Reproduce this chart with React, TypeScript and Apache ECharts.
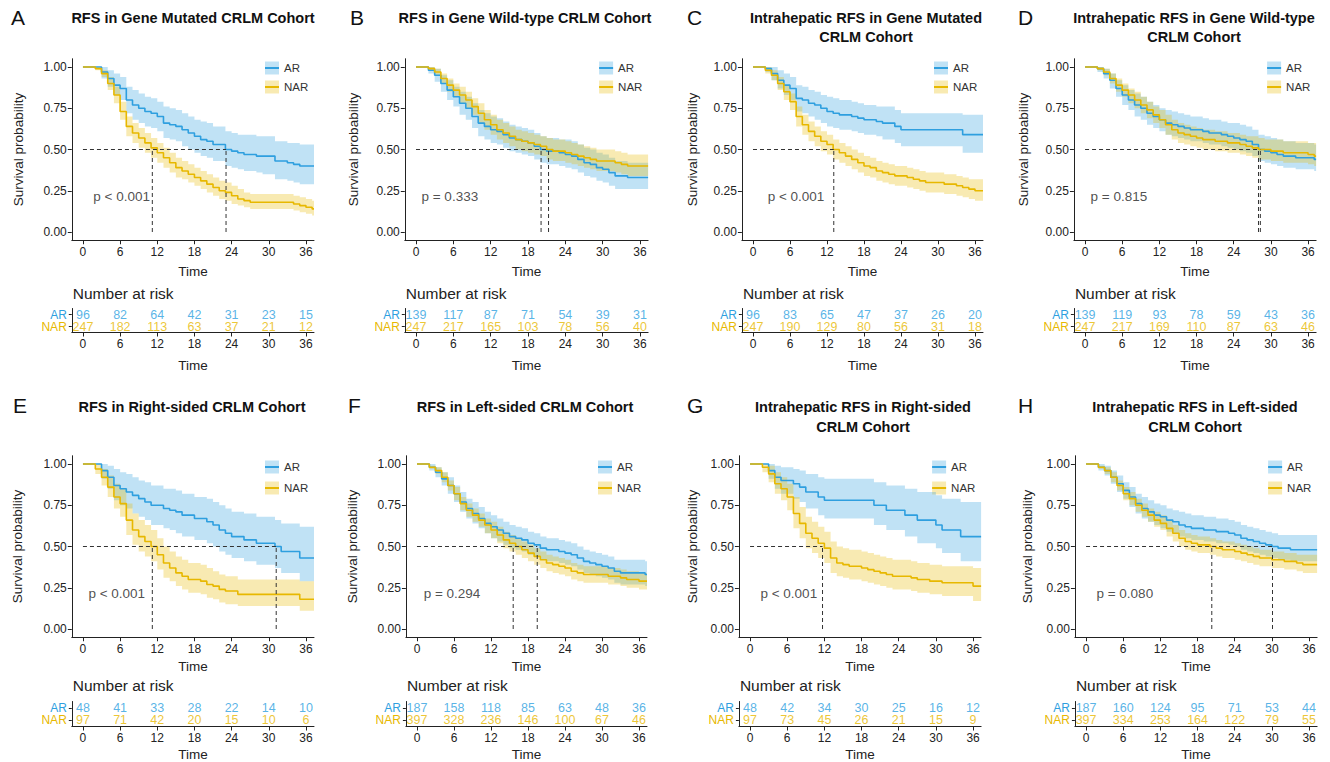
import React, { useEffect, useRef } from "react";
import * as echarts from "echarts";

// ---------- data ----------
const T_MONTHS = [0,1,2,3,4,5,6,7,8,9,10,11,12,13,14,15,16,17,18,19,20,21,22,23,24,25,26,27,28,29,30,31,32,33,34,35,36,37];
const FOLLOW_UP_END = 37.3;
const RISK_TIMES = [0, 6, 12, 18, 24, 30, 36];
const Y_TICKS = [0, 0.25, 0.5, 0.75, 1];
const GROUPS = ["AR", "NAR"];

// Panel A
const A_AR_S = [1,1,1,0.97,0.93,0.89,0.87,0.80,0.77,0.75, 0.73,0.72,0.70,0.66,0.65,0.64,0.62,0.60,0.58,0.56, 0.55,0.53,0.53,0.50,0.49,0.48,0.47,0.47,0.46,0.46, 0.46,0.43,0.43,0.42,0.41,0.40,0.40,0.40];
const A_AR_HI = [1,1,1,1,0.98,0.96,0.94,0.88,0.86,0.84, 0.82,0.81,0.79,0.76,0.75,0.74,0.72,0.70,0.68,0.67, 0.66,0.64,0.64,0.61,0.60,0.59,0.59,0.59,0.58,0.58, 0.58,0.55,0.55,0.54,0.54,0.53,0.53,0.53];
const A_AR_LO = [1,1,1,0.93,0.88,0.83,0.80,0.72,0.68,0.66, 0.64,0.63,0.61,0.57,0.56,0.55,0.52,0.50,0.48,0.46, 0.45,0.43,0.43,0.40,0.39,0.38,0.37,0.37,0.36,0.35, 0.35,0.32,0.32,0.31,0.30,0.29,0.29,0.29];
const A_NAR_S = [1,1,0.99,0.96,0.90,0.83,0.73,0.64,0.60,0.57, 0.54,0.51,0.48,0.45,0.42,0.39,0.37,0.35,0.33,0.31, 0.29,0.27,0.25,0.24,0.22,0.20,0.19,0.18,0.18,0.18, 0.18,0.18,0.18,0.18,0.17,0.16,0.15,0.14];
const A_NAR_HI = [1,1,1,0.98,0.94,0.88,0.79,0.70,0.66,0.63, 0.60,0.57,0.54,0.51,0.48,0.45,0.43,0.41,0.39,0.37, 0.35,0.33,0.31,0.30,0.28,0.26,0.24,0.23,0.23,0.23, 0.23,0.23,0.23,0.23,0.22,0.21,0.20,0.19];
const A_NAR_LO = [1,1,0.98,0.94,0.86,0.78,0.68,0.58,0.54,0.51, 0.48,0.45,0.42,0.39,0.36,0.33,0.32,0.30,0.28,0.26, 0.24,0.22,0.20,0.19,0.17,0.16,0.15,0.14,0.14,0.14, 0.14,0.14,0.14,0.14,0.13,0.12,0.11,0.10];
const A_RISK_AR = [96, 82, 64, 42, 31, 23, 15];
const A_RISK_NAR = [247, 182, 113, 63, 37, 21, 12];
const A_MEDIANS = [23.1, 11.2];

// Panel B
const B_AR_S = [1,1,0.98,0.95,0.90,0.86,0.82,0.78,0.75,0.70, 0.66,0.64,0.62,0.61,0.59,0.57,0.56,0.55,0.54,0.52, 0.50,0.49,0.49,0.48,0.47,0.46,0.44,0.42,0.41,0.39, 0.38,0.36,0.34,0.34,0.33,0.33,0.33,0.33];
const B_AR_HI = [1,1,1,0.99,0.95,0.92,0.88,0.85,0.82,0.78, 0.74,0.72,0.70,0.69,0.67,0.65,0.64,0.63,0.62,0.60, 0.58,0.57,0.57,0.56,0.56,0.55,0.53,0.51,0.50,0.48, 0.47,0.45,0.43,0.43,0.42,0.42,0.42,0.42];
const B_AR_LO = [1,1,0.96,0.91,0.85,0.80,0.76,0.71,0.68,0.63, 0.58,0.56,0.54,0.53,0.51,0.49,0.48,0.47,0.46,0.44, 0.42,0.41,0.41,0.40,0.39,0.38,0.36,0.34,0.33,0.31, 0.30,0.28,0.26,0.26,0.26,0.26,0.26,0.26];
const B_NAR_S = [1,1,0.99,0.97,0.93,0.89,0.86,0.83,0.80,0.76, 0.72,0.68,0.65,0.62,0.60,0.58,0.56,0.55,0.54,0.53, 0.52,0.50,0.49,0.49,0.48,0.47,0.46,0.45,0.44,0.43, 0.43,0.43,0.42,0.41,0.40,0.40,0.40,0.40];
const B_NAR_HI = [1,1,1,0.99,0.96,0.93,0.90,0.88,0.85,0.81, 0.78,0.74,0.71,0.68,0.66,0.64,0.62,0.61,0.60,0.59, 0.58,0.57,0.56,0.56,0.55,0.54,0.53,0.52,0.51,0.50, 0.50,0.50,0.49,0.48,0.47,0.47,0.47,0.47];
const B_NAR_LO = [1,1,0.98,0.95,0.90,0.85,0.82,0.78,0.75,0.71, 0.66,0.62,0.59,0.56,0.54,0.52,0.50,0.49,0.48,0.47, 0.46,0.44,0.43,0.43,0.42,0.41,0.40,0.39,0.38,0.37, 0.37,0.37,0.36,0.35,0.34,0.34,0.34,0.34];
const B_RISK_AR = [139, 117, 87, 71, 54, 39, 31];
const B_RISK_NAR = [247, 217, 165, 103, 78, 56, 40];
const B_MEDIANS = [20.1, 21.3];

// Panel C
const C_AR_S = [1,1,0.99,0.96,0.92,0.89,0.87,0.81,0.80,0.78, 0.77,0.75,0.73,0.72,0.71,0.71,0.70,0.69,0.68,0.68, 0.67,0.66,0.66,0.64,0.62,0.62,0.62,0.62,0.62,0.62, 0.62,0.62,0.62,0.62,0.59,0.59,0.59,0.59];
const C_AR_HI = [1,1,1,1,0.98,0.96,0.94,0.89,0.88,0.86, 0.85,0.83,0.82,0.81,0.80,0.80,0.79,0.78,0.77,0.77, 0.76,0.76,0.76,0.74,0.72,0.72,0.72,0.72,0.72,0.72, 0.72,0.72,0.72,0.72,0.71,0.71,0.71,0.71];
const C_AR_LO = [1,1,0.97,0.92,0.87,0.83,0.80,0.73,0.72,0.70, 0.68,0.66,0.64,0.63,0.62,0.62,0.61,0.60,0.59,0.59, 0.58,0.56,0.56,0.54,0.52,0.52,0.52,0.52,0.52,0.52, 0.52,0.52,0.52,0.52,0.48,0.48,0.48,0.48];
const C_NAR_S = [1,1,0.98,0.95,0.90,0.85,0.79,0.70,0.65,0.61, 0.58,0.55,0.53,0.50,0.48,0.46,0.44,0.42,0.40,0.39, 0.37,0.36,0.35,0.34,0.34,0.33,0.32,0.31,0.30,0.30, 0.30,0.29,0.29,0.28,0.27,0.26,0.25,0.25];
const C_NAR_HI = [1,1,1,0.98,0.94,0.89,0.84,0.76,0.71,0.67, 0.64,0.61,0.59,0.56,0.54,0.52,0.50,0.48,0.46,0.45, 0.43,0.42,0.41,0.40,0.40,0.39,0.38,0.37,0.36,0.36, 0.36,0.35,0.35,0.34,0.33,0.32,0.32,0.32];
const C_NAR_LO = [1,1,0.96,0.92,0.86,0.80,0.74,0.64,0.59,0.55, 0.52,0.49,0.47,0.44,0.42,0.40,0.38,0.36,0.34,0.33, 0.31,0.30,0.29,0.28,0.28,0.27,0.26,0.25,0.24,0.24, 0.24,0.23,0.23,0.22,0.21,0.20,0.19,0.19];
const C_RISK_AR = [96, 83, 65, 47, 37, 26, 20];
const C_RISK_NAR = [247, 190, 129, 80, 56, 31, 18];
const C_MEDIANS = [13.1];

// Panel D
const D_AR_S = [1,1,0.99,0.96,0.92,0.87,0.83,0.80,0.77,0.75, 0.72,0.70,0.68,0.66,0.65,0.64,0.63,0.62,0.62,0.61, 0.60,0.60,0.59,0.58,0.57,0.56,0.55,0.53,0.50,0.49, 0.48,0.47,0.46,0.46,0.45,0.45,0.45,0.44];
const D_AR_HI = [1,1,1,0.99,0.96,0.92,0.89,0.86,0.84,0.82, 0.79,0.77,0.75,0.74,0.73,0.72,0.71,0.70,0.70,0.69, 0.68,0.68,0.67,0.66,0.66,0.65,0.64,0.62,0.59,0.58, 0.57,0.56,0.55,0.55,0.54,0.54,0.54,0.53];
const D_AR_LO = [1,1,0.97,0.93,0.87,0.82,0.77,0.74,0.70,0.68, 0.65,0.63,0.61,0.59,0.58,0.57,0.56,0.55,0.55,0.54, 0.53,0.53,0.52,0.51,0.50,0.49,0.48,0.46,0.43,0.42, 0.41,0.40,0.39,0.39,0.38,0.38,0.38,0.37];
const D_NAR_S = [1,1,0.99,0.97,0.93,0.89,0.86,0.83,0.80,0.77, 0.74,0.71,0.68,0.65,0.62,0.60,0.59,0.58,0.57,0.56, 0.56,0.55,0.55,0.54,0.54,0.53,0.52,0.51,0.50,0.50, 0.49,0.49,0.48,0.48,0.48,0.48,0.47,0.46];
const D_NAR_HI = [1,1,1,0.99,0.96,0.93,0.90,0.87,0.85,0.82, 0.79,0.76,0.74,0.71,0.68,0.66,0.65,0.64,0.63,0.62, 0.62,0.61,0.61,0.60,0.60,0.59,0.58,0.58,0.57,0.56, 0.56,0.56,0.55,0.55,0.55,0.55,0.54,0.54];
const D_NAR_LO = [1,1,0.98,0.95,0.90,0.85,0.82,0.78,0.75,0.72, 0.69,0.66,0.63,0.59,0.56,0.54,0.53,0.52,0.51,0.50, 0.50,0.49,0.49,0.48,0.48,0.47,0.46,0.45,0.44,0.44, 0.43,0.43,0.42,0.42,0.42,0.42,0.41,0.40];
const D_RISK_AR = [139, 119, 93, 78, 59, 43, 36];
const D_RISK_NAR = [247, 217, 169, 110, 87, 63, 46];
const D_MEDIANS = [28.0, 28.3];

// Panel E
const E_AR_S = [1,1,1,0.96,0.92,0.87,0.85,0.83,0.81,0.79, 0.77,0.75,0.75,0.73,0.72,0.71,0.69,0.69,0.67,0.67, 0.65,0.63,0.60,0.58,0.56,0.56,0.54,0.54,0.52,0.52, 0.52,0.50,0.47,0.47,0.47,0.43,0.43,0.43];
const E_AR_HI = [1,1,1,1,0.99,0.97,0.95,0.94,0.92,0.90, 0.89,0.87,0.87,0.85,0.85,0.84,0.82,0.82,0.80,0.80, 0.79,0.77,0.75,0.73,0.71,0.71,0.70,0.70,0.68,0.68, 0.68,0.66,0.64,0.64,0.64,0.62,0.62,0.62];
const E_AR_LO = [1,1,1,0.91,0.85,0.78,0.75,0.73,0.70,0.68, 0.66,0.63,0.63,0.61,0.60,0.58,0.56,0.56,0.54,0.54, 0.52,0.50,0.47,0.45,0.43,0.43,0.41,0.41,0.39,0.39, 0.39,0.37,0.34,0.34,0.34,0.29,0.29,0.29];
const E_NAR_S = [1,1,0.97,0.92,0.86,0.80,0.76,0.66,0.60,0.56, 0.53,0.50,0.45,0.40,0.37,0.34,0.32,0.30,0.30,0.29, 0.27,0.26,0.24,0.23,0.23,0.21,0.21,0.21,0.21,0.21, 0.21,0.21,0.21,0.21,0.21,0.18,0.18,0.18];
const E_NAR_HI = [1,1,1,0.97,0.93,0.88,0.85,0.76,0.70,0.66, 0.63,0.60,0.55,0.50,0.47,0.44,0.42,0.40,0.40,0.39, 0.37,0.35,0.33,0.32,0.32,0.30,0.30,0.30,0.30,0.30, 0.30,0.30,0.30,0.30,0.30,0.29,0.29,0.29];
const E_NAR_LO = [1,1,0.94,0.87,0.80,0.73,0.68,0.57,0.51,0.47, 0.44,0.41,0.36,0.31,0.29,0.26,0.24,0.22,0.22,0.21, 0.19,0.18,0.16,0.15,0.15,0.14,0.14,0.14,0.14,0.14, 0.14,0.14,0.14,0.14,0.14,0.11,0.11,0.11];
const E_RISK_AR = [48, 41, 33, 28, 22, 14, 10];
const E_RISK_NAR = [97, 71, 42, 20, 15, 10, 6];
const E_MEDIANS = [31.2, 11.2];

// Panel F
const F_AR_S = [1,1,0.98,0.95,0.91,0.87,0.82,0.77,0.73,0.70, 0.67,0.64,0.62,0.60,0.58,0.56,0.55,0.54,0.52,0.51, 0.49,0.48,0.48,0.47,0.46,0.45,0.43,0.41,0.40,0.39, 0.38,0.37,0.35,0.34,0.34,0.34,0.34,0.33];
const F_AR_HI = [1,1,1,0.98,0.95,0.92,0.87,0.83,0.79,0.77, 0.74,0.71,0.69,0.67,0.65,0.63,0.62,0.61,0.59,0.58, 0.56,0.55,0.55,0.54,0.53,0.52,0.50,0.48,0.47,0.46, 0.45,0.44,0.42,0.42,0.42,0.42,0.42,0.41];
const F_AR_LO = [1,1,0.96,0.92,0.87,0.82,0.77,0.71,0.67,0.64, 0.61,0.58,0.55,0.53,0.51,0.49,0.48,0.47,0.45,0.44, 0.42,0.41,0.41,0.40,0.39,0.38,0.36,0.34,0.33,0.32, 0.31,0.30,0.28,0.27,0.27,0.27,0.27,0.26];
const F_NAR_S = [1,1,0.98,0.96,0.92,0.87,0.82,0.76,0.72,0.69, 0.66,0.63,0.60,0.57,0.54,0.52,0.50,0.48,0.46,0.44, 0.42,0.40,0.39,0.38,0.37,0.35,0.34,0.33,0.33,0.33, 0.33,0.32,0.32,0.31,0.30,0.30,0.29,0.29];
const F_NAR_HI = [1,1,0.99,0.98,0.95,0.90,0.86,0.80,0.76,0.73, 0.70,0.67,0.65,0.62,0.59,0.57,0.55,0.53,0.51,0.49, 0.47,0.45,0.44,0.43,0.42,0.40,0.39,0.38,0.38,0.38, 0.38,0.37,0.37,0.36,0.35,0.35,0.34,0.34];
const F_NAR_LO = [1,1,0.97,0.94,0.89,0.84,0.78,0.72,0.68,0.65, 0.62,0.58,0.55,0.52,0.49,0.47,0.45,0.43,0.41,0.39, 0.37,0.35,0.34,0.33,0.32,0.30,0.29,0.28,0.28,0.28, 0.28,0.27,0.27,0.26,0.25,0.25,0.24,0.24];
const F_RISK_AR = [187, 158, 118, 85, 63, 48, 36];
const F_RISK_NAR = [397, 328, 236, 146, 100, 67, 46];
const F_MEDIANS = [19.5, 15.6];

// Panel G
const G_AR_S = [1,1,1,0.96,0.92,0.90,0.90,0.88,0.86,0.83, 0.83,0.80,0.78,0.78,0.78,0.78,0.78,0.78,0.78,0.78, 0.75,0.75,0.72,0.72,0.72,0.69,0.69,0.66,0.66,0.66, 0.63,0.60,0.60,0.60,0.56,0.56,0.56,0.56];
const G_AR_HI = [1,1,1,1,0.99,0.98,0.98,0.97,0.96,0.94, 0.94,0.92,0.91,0.91,0.91,0.91,0.91,0.91,0.91,0.91, 0.89,0.89,0.87,0.87,0.87,0.85,0.85,0.83,0.83,0.83, 0.81,0.79,0.79,0.79,0.77,0.77,0.77,0.77];
const G_AR_LO = [1,1,1,0.91,0.85,0.82,0.82,0.79,0.77,0.73, 0.73,0.69,0.67,0.67,0.67,0.67,0.67,0.67,0.67,0.67, 0.63,0.63,0.60,0.60,0.60,0.56,0.56,0.52,0.52,0.52, 0.49,0.46,0.46,0.46,0.41,0.41,0.41,0.41];
const G_NAR_S = [1,1,0.98,0.94,0.88,0.85,0.80,0.70,0.64,0.58, 0.55,0.52,0.49,0.43,0.40,0.39,0.38,0.38,0.37,0.36, 0.35,0.34,0.33,0.32,0.32,0.32,0.31,0.30,0.30,0.29, 0.29,0.28,0.28,0.28,0.28,0.28,0.26,0.26];
const G_NAR_HI = [1,1,1,0.99,0.95,0.92,0.88,0.80,0.74,0.68, 0.65,0.62,0.59,0.53,0.50,0.49,0.48,0.48,0.47,0.46, 0.45,0.44,0.43,0.42,0.42,0.42,0.41,0.40,0.40,0.39, 0.39,0.38,0.38,0.38,0.38,0.38,0.37,0.37];
const G_NAR_LO = [1,1,0.95,0.89,0.82,0.78,0.72,0.61,0.55,0.49, 0.46,0.43,0.40,0.34,0.32,0.31,0.30,0.30,0.29,0.28, 0.27,0.26,0.25,0.24,0.24,0.24,0.23,0.22,0.22,0.21, 0.21,0.20,0.20,0.20,0.20,0.20,0.17,0.17];
const G_RISK_AR = [48, 42, 34, 30, 25, 16, 12];
const G_RISK_NAR = [97, 73, 45, 26, 21, 15, 9];
const G_MEDIANS = [11.7];

// Panel H
const H_AR_S = [1,1,0.98,0.96,0.92,0.88,0.84,0.80,0.76,0.73, 0.71,0.69,0.68,0.66,0.65,0.63,0.62,0.61,0.61,0.60, 0.60,0.59,0.59,0.58,0.57,0.55,0.54,0.53,0.52,0.51, 0.50,0.49,0.49,0.48,0.48,0.48,0.48,0.48];
const H_AR_HI = [1,1,1,0.99,0.96,0.93,0.89,0.86,0.82,0.80, 0.78,0.76,0.75,0.73,0.72,0.71,0.70,0.69,0.69,0.68, 0.68,0.67,0.67,0.66,0.65,0.63,0.62,0.61,0.60,0.59, 0.58,0.57,0.57,0.57,0.57,0.57,0.57,0.57];
const H_AR_LO = [1,1,0.96,0.93,0.88,0.83,0.79,0.74,0.70,0.67, 0.65,0.63,0.61,0.59,0.58,0.56,0.55,0.54,0.54,0.53, 0.53,0.52,0.52,0.51,0.50,0.48,0.47,0.46,0.45,0.44, 0.43,0.42,0.42,0.41,0.41,0.41,0.41,0.41];
const H_NAR_S = [1,1,0.98,0.96,0.92,0.87,0.82,0.79,0.75,0.72, 0.69,0.66,0.64,0.61,0.58,0.55,0.53,0.52,0.51,0.51, 0.50,0.49,0.48,0.48,0.47,0.46,0.45,0.44,0.43,0.43, 0.42,0.42,0.41,0.41,0.40,0.39,0.39,0.39];
const H_NAR_HI = [1,1,0.99,0.98,0.95,0.90,0.86,0.83,0.79,0.76, 0.73,0.71,0.69,0.66,0.63,0.60,0.58,0.57,0.56,0.56, 0.55,0.54,0.53,0.53,0.52,0.51,0.50,0.49,0.48,0.48, 0.47,0.47,0.46,0.46,0.45,0.45,0.45,0.45];
const H_NAR_LO = [1,1,0.97,0.94,0.89,0.84,0.78,0.75,0.71,0.68, 0.65,0.62,0.60,0.56,0.53,0.50,0.48,0.47,0.46,0.46, 0.45,0.44,0.43,0.43,0.42,0.41,0.40,0.39,0.38,0.38, 0.37,0.37,0.36,0.36,0.35,0.34,0.34,0.34];
const H_RISK_AR = [187, 160, 124, 95, 71, 53, 44];
const H_RISK_NAR = [397, 334, 253, 164, 122, 79, 55];
const H_MEDIANS = [30.1, 20.3];

const LETTERS = ["A", "B", "C", "D", "E", "F", "G", "H"];
const TITLES = [
  ["RFS in Gene Mutated CRLM Cohort"],
  ["RFS in Gene Wild-type CRLM Cohort"],
  ["Intrahepatic RFS in Gene Mutated", "CRLM Cohort"],
  ["Intrahepatic RFS in Gene Wild-type", "CRLM Cohort"],
  ["RFS in Right-sided CRLM Cohort"],
  ["RFS in Left-sided CRLM Cohort"],
  ["Intrahepatic RFS in Right-sided", "CRLM Cohort"],
  ["Intrahepatic RFS in Left-sided", "CRLM Cohort"],
];
const P_TEXTS = ["p < 0.001", "p = 0.333", "p < 0.001", "p = 0.815", "p < 0.001", "p = 0.294", "p < 0.001", "p = 0.080"];

const CURVES = [
  [[A_AR_S, A_AR_LO, A_AR_HI], [A_NAR_S, A_NAR_LO, A_NAR_HI]],
  [[B_AR_S, B_AR_LO, B_AR_HI], [B_NAR_S, B_NAR_LO, B_NAR_HI]],
  [[C_AR_S, C_AR_LO, C_AR_HI], [C_NAR_S, C_NAR_LO, C_NAR_HI]],
  [[D_AR_S, D_AR_LO, D_AR_HI], [D_NAR_S, D_NAR_LO, D_NAR_HI]],
  [[E_AR_S, E_AR_LO, E_AR_HI], [E_NAR_S, E_NAR_LO, E_NAR_HI]],
  [[F_AR_S, F_AR_LO, F_AR_HI], [F_NAR_S, F_NAR_LO, F_NAR_HI]],
  [[G_AR_S, G_AR_LO, G_AR_HI], [G_NAR_S, G_NAR_LO, G_NAR_HI]],
  [[H_AR_S, H_AR_LO, H_AR_HI], [H_NAR_S, H_NAR_LO, H_NAR_HI]],
];
const RISKS = [
  [A_RISK_AR, A_RISK_NAR], [B_RISK_AR, B_RISK_NAR], [C_RISK_AR, C_RISK_NAR], [D_RISK_AR, D_RISK_NAR],
  [E_RISK_AR, E_RISK_NAR], [F_RISK_AR, F_RISK_NAR], [G_RISK_AR, G_RISK_NAR], [H_RISK_AR, H_RISK_NAR],
];
const MEDIANS = [A_MEDIANS, B_MEDIANS, C_MEDIANS, D_MEDIANS, E_MEDIANS, F_MEDIANS, G_MEDIANS, H_MEDIANS];

// ---------- layout / style ----------
const FONT = "'Liberation Sans', Arial, Helvetica, sans-serif";
const BLUE = "#2E9FDF";
const GOLD = "#E7B800";
const BAND = ["rgba(46,159,223,0.3)", "rgba(231,184,0,0.3)"];
const LINE_COL = [BLUE, GOLD];
const AX = "#222";
const X_MIN = -1.8;
const X_MAX = 37.3;
const P_X = [1.6, 0.8, 2.3, 0.8, 0.8, 1.0, 1.6, 1.6];
const P_Y = 0.215;

const COL_LEFT = [71.8, 404.8, 741.9, 1073.9, 71.8, 405.9, 738.9, 1074.9];
const COL_WIDTH = [242.2, 243.3, 241.1, 242.2, 242.2, 241.1, 242.2, 242.2];
const TITLE_CX = [193, 525, 866, 1194, 192, 525, 863, 1195];
const LETTER_X = [11, 350, 687, 1018, 13, 348, 687, 1018];
const YLAB_X = [18.5, 353, 692, 1023, 17, 352, 692, 1027];
const ROWS = [
  { kmTop: 58.75, kmH: 181.5, tblTop: 308.5, tblH: 24, letterY: 17, t1: 18, t2: 37, kmTime: 271, nar: 293, tblTime: 365, legA: 1, legN: 20 },
  { kmTop: 455.75, kmH: 181.5, tblTop: 701.5, tblH: 25, letterY: 405, t1: 407, t2: 427, kmTime: 666, nar: 685, tblTime: 754, legA: 3, legN: 24 },
];

function buildOption() {
  const grid: any[] = [];
  const xAxis: any[] = [];
  const yAxis: any[] = [];
  const series: any[] = [];
  const graphic: any[] = [];

  const axisLine = { show: true, onZero: false, lineStyle: { color: AX, width: 1 } };
  const axisTick = (vals: number[] | null) => ({ show: true, length: 4, lineStyle: { color: AX, width: 1 }, ...(vals ? { customValues: vals } : {}) });

  for (let p = 0; p < 8; p++) {
    const row = ROWS[p < 4 ? 0 : 1];
    const left = COL_LEFT[p];
    const width = COL_WIDTH[p];
    const kmIdx = 2 * p;
    const tbIdx = 2 * p + 1;

    grid.push({ left, top: row.kmTop, width, height: row.kmH, containLabel: false });
    grid.push({ left, top: row.tblTop, width, height: row.tblH, containLabel: false });

    xAxis.push({
      gridIndex: kmIdx, type: "value", min: X_MIN, max: X_MAX,
      axisLine, axisTick: axisTick(RISK_TIMES), splitLine: { show: false },
      axisLabel: { customValues: RISK_TIMES, fontSize: 12, color: AX, margin: 6, fontFamily: FONT },
    });
    yAxis.push({
      gridIndex: kmIdx, type: "value", min: -0.05, max: 1.05,
      axisLine, axisTick: axisTick(Y_TICKS), splitLine: { show: false },
      axisLabel: { customValues: Y_TICKS, fontSize: 12, color: AX, margin: 5, fontFamily: FONT, formatter: (v: number) => v.toFixed(2) },
    });
    xAxis.push({
      gridIndex: tbIdx, type: "value", min: X_MIN, max: X_MAX,
      axisLine, axisTick: axisTick(RISK_TIMES), splitLine: { show: false },
      axisLabel: { customValues: RISK_TIMES, fontSize: 12, color: AX, margin: 5, fontFamily: FONT },
    });
    yAxis.push({
      gridIndex: tbIdx, type: "category", data: ["NAR", "AR"],
      axisLine, axisTick: { show: true, interval: 0, alignWithLabel: true, length: 3, lineStyle: { color: AX } },
      splitLine: { show: false },
      axisLabel: { interval: 0, hideOverlap: false, fontSize: 12, margin: 5, fontFamily: FONT, color: (v: string) => (v === "AR" ? BLUE : GOLD) },
    });

    const curves = CURVES[p];
    // bands
    curves.forEach((c, g) => {
      const [, lo, hi] = c;
      series.push({
        type: "custom", xAxisIndex: kmIdx, yAxisIndex: kmIdx, silent: true, z: 1,
        data: [[0, 0]],
        renderItem: (_params: any, api: any) => {
          const upper: number[][] = [];
          const lower: number[][] = [];
          for (let i = 0; i < lo.length; i++) {
            const t0 = T_MONTHS[i];
            const t1 = i < lo.length - 1 ? T_MONTHS[i + 1] : FOLLOW_UP_END;
            upper.push(api.coord([t0, hi[i]]), api.coord([t1, hi[i]]));
            lower.push(api.coord([t0, lo[i]]), api.coord([t1, lo[i]]));
          }
          return { type: "polygon", shape: { points: upper.concat(lower.reverse()) }, style: { fill: BAND[g], stroke: "none" } };
        },
      });
    });
    // survival lines
    curves.forEach((c, g) => {
      const s = c[0];
      const data = s.map((v, i) => [T_MONTHS[i], v]);
      data.push([FOLLOW_UP_END, s[s.length - 1]]);
      series.push({
        type: "line", xAxisIndex: kmIdx, yAxisIndex: kmIdx, step: "end", data, z: 3,
        showSymbol: false, symbol: "none", silent: true,
        lineStyle: { color: LINE_COL[g], width: 1.6 },
      });
    });
    // median dashed lines
    const meds = MEDIANS[p];
    const maxMed = Math.max(...meds);
    const dash = { color: "#333", width: 1, type: [4, 3] };
    series.push({ type: "line", xAxisIndex: kmIdx, yAxisIndex: kmIdx, data: [[0, 0.5], [maxMed, 0.5]], symbol: "none", silent: true, z: 4, lineStyle: dash });
    meds.forEach((m) => {
      series.push({ type: "line", xAxisIndex: kmIdx, yAxisIndex: kmIdx, data: [[m, 0], [m, 0.5]], symbol: "none", silent: true, z: 4, lineStyle: dash });
    });
    // p value
    series.push({
      type: "scatter", xAxisIndex: kmIdx, yAxisIndex: kmIdx, silent: true, z: 5,
      data: [[P_X[p], P_Y]], symbolSize: 1, itemStyle: { color: "rgba(0,0,0,0)" },
      label: { show: true, position: "right", distance: 0, formatter: P_TEXTS[p], fontSize: 13.5, color: "#222", fontFamily: FONT },
    });
    // risk table numbers
    RISKS[p].forEach((nums, g) => {
      series.push({
        type: "scatter", xAxisIndex: tbIdx, yAxisIndex: tbIdx, silent: true,
        data: RISK_TIMES.map((t, i) => [t, g === 0 ? 1 : 0, nums[i]]),
        symbolSize: 1, itemStyle: { color: "rgba(0,0,0,0)" },
        label: { show: true, position: "inside", formatter: (q: any) => String(q.value[2]), fontSize: 12.5, color: LINE_COL[g], fontFamily: FONT },
      });
    });

    // texts
    graphic.push({
      type: "text", x: LETTER_X[p], y: row.letterY,
      style: { text: LETTERS[p], fontSize: 21, fontFamily: FONT, fill: "#111", textAlign: "left", textVerticalAlign: "middle" },
    });
    TITLES[p].forEach((line, k) => {
      graphic.push({
        type: "text", x: TITLE_CX[p], y: k === 0 ? row.t1 : row.t2,
        style: { text: line, fontSize: 14.5, fontWeight: "bold", fontFamily: FONT, fill: "#111", textAlign: "center", textVerticalAlign: "middle" },
      });
    });
    const y1px = row.kmTop + row.kmH * (0.05 / 1.1);
    const y0px = row.kmTop + row.kmH * (1.05 / 1.1);
    graphic.push({
      type: "text", x: YLAB_X[p], y: (y1px + y0px) / 2, rotation: Math.PI / 2,
      style: { text: "Survival probability", fontSize: 13.5, fontFamily: FONT, fill: "#222", textAlign: "center", textVerticalAlign: "middle" },
    });
    graphic.push({
      type: "text", x: left + width / 2, y: row.kmTime,
      style: { text: "Time", fontSize: 13.5, fontFamily: FONT, fill: "#222", textAlign: "center", textVerticalAlign: "middle" },
    });
    graphic.push({
      type: "text", x: left + width / 2, y: row.tblTime,
      style: { text: "Time", fontSize: 13.5, fontFamily: FONT, fill: "#222", textAlign: "center", textVerticalAlign: "middle" },
    });
    graphic.push({
      type: "text", x: left + 1, y: row.nar,
      style: { text: "Number at risk", fontSize: 15.5, fontFamily: FONT, fill: "#222", textAlign: "left", textVerticalAlign: "middle" },
    });
    // legend
    const right = left + width;
    [row.legA, row.legN].forEach((dy, g) => {
      const cy = y1px + dy;
      graphic.push({ type: "rect", shape: { x: right - 49, y: cy - 6.5, width: 14, height: 13 }, style: { fill: BAND[g] } });
      graphic.push({ type: "line", shape: { x1: right - 49, y1: cy, x2: right - 35, y2: cy }, style: { stroke: LINE_COL[g], lineWidth: 2 } });
      graphic.push({
        type: "text", x: right - 30, y: cy,
        style: { text: GROUPS[g], fontSize: 11.5, fontFamily: FONT, fill: "#333", textAlign: "left", textVerticalAlign: "middle" },
      });
    });
  }

  return {
    animation: false,
    backgroundColor: "#ffffff",
    textStyle: { fontFamily: FONT },
    grid, xAxis, yAxis, series, graphic,
  };
}

export default function App() {
  const ref = useRef<HTMLDivElement>(null);
  useEffect(() => {
    if (!ref.current) return;
    const chart = echarts.init(ref.current, null, { renderer: "svg" });
    chart.setOption(buildOption() as any);
    return () => chart.dispose();
  }, []);
  return <div ref={ref} style={{ position: "absolute", left: 0, top: 0, width: 1330, height: 762, background: "#fff" }} />;
}
